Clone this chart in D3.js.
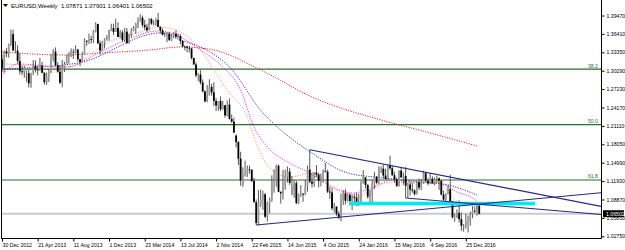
<!DOCTYPE html>
<html><head><meta charset="utf-8">
<script src="https://cdn.jsdelivr.net/npm/d3@7"></script>
<style>html,body{margin:0;padding:0;background:#fff}svg{display:block}</style>
</head><body>
<svg id="c" width="625" height="250"></svg>
<script>
// weekly bars, first bar = week of 30 Dec 2012
const opens=[1.3215,1.3067,1.3347,1.3316,1.3457,1.3637,1.3364,1.3364,1.3191,1.3020,1.3003,1.2960,1.2987,1.2818,1.2995,1.3112,1.3048,1.3034,1.3111,1.2993,1.2836,1.2936,1.2995,1.3220,1.3346,1.3122,1.3012,1.2830,1.3067,1.3141,1.3279,1.3280,1.3343,1.3332,1.3380,1.3219,1.3176,1.3300,1.3525,1.3523,1.3554,1.3552,1.3683,1.3803,1.3485,1.3364,1.3500,1.3557,1.3590,1.3704,1.3740,1.3676,1.3740,
1.3589,1.3666,1.3537,1.3678,1.3487,1.3636,1.3693,1.3740,1.3802,1.3875,1.3910,1.3790,1.3750,1.3703,1.3886,1.3813,1.3830,1.3873,1.3758,1.3698,1.3627,1.3635,1.3643,1.3542,1.3606,1.3645,1.3593,1.3605,1.3523,1.3430,1.3429,1.3410,1.3400,1.3240,1.3132,1.2951,1.2963,1.2832,1.2685,1.2520,1.2627,1.2760,1.2670,1.2525,1.2450,1.2526,1.2390,1.2454,1.2286,1.2465,1.2226,1.2180,
1.1950,1.1841,1.1565,1.1130,1.1290,1.1315,1.1388,1.1381,1.1196,1.0842,1.0496,1.0822,1.0890,1.0971,1.0600,1.0808,1.0875,1.1198,1.1202,1.1447,1.1015,1.0990,1.1113,1.1265,1.1350,1.0970,1.1040,1.1160,1.0830,1.0980,1.0982,1.0967,1.1105,1.1385,1.1183,1.1150,1.1335,1.1300,1.1195,1.1210,1.1356,1.1350,1.1018,1.1004,1.0740,1.0768,1.0647,1.0590,1.0883,1.0990,1.0867,1.0965,
1.0860,1.0928,1.0916,1.0796,1.0830,1.1158,1.1255,1.1130,1.0933,1.1004,1.1150,1.1268,1.1167,1.1390,1.1400,1.1286,1.1228,1.1455,1.1405,1.1290,1.1225,1.1113,1.1365,1.1253,1.1280,1.1115,1.1136,1.1052,1.1036,1.0977,1.1174,1.1086,1.1162,1.1325,1.1199,1.1155,1.1233,1.1157,1.1226,1.1240,1.1200,1.0970,1.0885,1.0985,1.1060,1.0855,1.0590,1.0590,1.0665,1.0560,1.0450,1.0455,
1.0520,1.0530,1.0643,1.0700,1.0697,1.07871];
const highs=[1.3300,1.3366,1.3404,1.3479,1.3711,1.3711,1.3521,1.3452,1.3319,1.3113,1.3109,1.3030,1.3042,1.2955,1.3205,1.3200,1.3109,1.3243,1.3174,1.3011,1.2999,1.3060,1.3306,1.3390,1.3416,1.3170,1.3118,1.3207,1.3177,1.3296,1.3345,1.3400,1.3393,1.3452,1.3394,1.3224,1.3344,1.3568,1.3540,1.3646,1.3608,1.3705,1.3833,1.3812,1.3530,1.3523,1.3570,1.3620,1.3710,1.3810,1.3811,1.3895,1.3834,
1.3705,1.3700,1.3740,1.3739,1.3645,1.3737,1.3773,1.3826,1.3915,1.3967,1.3945,1.3876,1.3808,1.3906,1.3905,1.3867,1.3907,1.3993,1.3770,1.3734,1.3669,1.3670,1.3677,1.3644,1.3677,1.3700,1.3650,1.3637,1.3530,1.3445,1.3444,1.3444,1.3400,1.3245,1.3167,1.2993,1.3037,1.2884,1.2700,1.2790,1.2887,1.2813,1.2837,1.2577,1.2510,1.2600,1.2530,1.2456,1.2531,1.2570,1.2300,1.2250,
1.1970,1.1860,1.1680,1.1423,1.1534,1.1452,1.1450,1.1390,1.1245,1.0889,1.1043,1.1052,1.1032,1.0997,1.0852,1.0920,1.1290,1.1390,1.1467,1.1467,1.1021,1.1380,1.1385,1.1436,1.1410,1.1278,1.1216,1.1200,1.0986,1.1128,1.0997,1.1214,1.1450,1.1714,1.1332,1.1340,1.1460,1.1330,1.1318,1.1387,1.1495,1.1383,1.1096,1.1077,1.0830,1.0775,1.0690,1.0980,1.1042,1.1060,1.0990,1.0995,
1.0970,1.0985,1.0994,1.0985,1.1200,1.1376,1.1260,1.1140,1.1045,1.1218,1.1342,1.1278,1.1439,1.1437,1.1465,1.1398,1.1460,1.1616,1.1447,1.1349,1.1249,1.1372,1.1416,1.1335,1.1428,1.1165,1.1185,1.1164,1.1055,1.1198,1.1234,1.1222,1.1366,1.1342,1.1240,1.1327,1.1272,1.1256,1.1282,1.1250,1.1210,1.1038,1.0990,1.1124,1.1300,1.0860,1.0650,1.0720,1.0874,1.0669,1.0480,1.0652,
1.0620,1.0685,1.0775,1.0775,1.0830,1.07901];
const lows=[1.3001,1.2998,1.3254,1.3247,1.3437,1.3363,1.3322,1.3144,1.2967,1.2955,1.2910,1.2845,1.2750,1.2745,1.2953,1.2999,1.2953,1.3030,1.2989,1.2797,1.2796,1.2840,1.2990,1.3180,1.3105,1.2993,1.2806,1.2755,1.3007,1.3138,1.3147,1.3254,1.3225,1.3314,1.3183,1.3104,1.3173,1.3295,1.3443,1.3475,1.3480,1.3491,1.3667,1.3473,1.3295,1.3362,1.3399,1.3528,1.3527,1.3686,1.3624,1.3674,1.3588,
1.3574,1.3507,1.3506,1.3478,1.3477,1.3588,1.3685,1.3642,1.3736,1.3843,1.3749,1.3705,1.3673,1.3696,1.3791,1.3783,1.3774,1.3760,1.3647,1.3614,1.3586,1.3503,1.3522,1.3525,1.3580,1.3571,1.3570,1.3473,1.3420,1.3367,1.3333,1.3333,1.3215,1.3132,1.2919,1.2859,1.2800,1.2667,1.2500,1.2505,1.2614,1.2613,1.2439,1.2357,1.2359,1.2358,1.2380,1.2247,1.2269,1.2219,1.2165,1.1997,
1.1754,1.1460,1.1114,1.1098,1.1270,1.1262,1.1316,1.1176,1.0840,1.0462,1.0458,1.0765,1.0712,1.0580,1.0520,1.0660,1.0850,1.1000,1.1100,1.1010,1.0819,1.0888,1.1048,1.1168,1.1130,1.0955,1.0915,1.0808,1.0808,1.0930,1.0848,1.0960,1.1017,1.1158,1.1086,1.1100,1.1260,1.1087,1.1105,1.1170,1.1340,1.0994,1.0895,1.0705,1.0675,1.0617,1.0560,1.0525,1.0795,1.0805,1.0850,1.0850,
1.0710,1.0800,1.0778,1.0780,1.0810,1.1150,1.1067,1.0900,1.0810,1.0822,1.1058,1.1143,1.1144,1.1328,1.1233,1.1217,1.1216,1.1385,1.1283,1.1166,1.1098,1.1100,1.1250,1.1131,1.0912,1.0912,1.0952,1.1000,1.0952,1.0970,1.1046,1.1046,1.1148,1.1178,1.1124,1.1140,1.1150,1.1121,1.1160,1.1045,1.0953,1.0859,1.0851,1.0972,1.0850,1.0570,1.0518,1.0580,1.0505,1.0365,1.0352,1.0400,
1.0340,1.0450,1.0575,1.0660,1.0620,1.06401];
const closes=[1.3067,1.3347,1.3316,1.3457,1.3637,1.3364,1.3364,1.3191,1.3020,1.3003,1.3075,1.2987,1.2818,1.2995,1.3112,1.3048,1.3034,1.3111,1.2993,1.2836,1.2936,1.2995,1.3220,1.3346,1.3122,1.3012,1.2830,1.3067,1.3141,1.3279,1.3280,1.3343,1.3332,1.3380,1.3219,1.3176,1.3300,1.3525,1.3523,1.3554,1.3552,1.3683,1.3803,1.3485,1.3364,1.3500,1.3557,1.3590,1.3704,1.3740,1.3676,1.3740,1.3589,
1.3666,1.3537,1.3678,1.3487,1.3636,1.3693,1.3740,1.3802,1.3875,1.3910,1.3790,1.3750,1.3703,1.3886,1.3813,1.3830,1.3873,1.3758,1.3698,1.3627,1.3635,1.3643,1.3542,1.3606,1.3645,1.3593,1.3605,1.3523,1.3430,1.3429,1.3410,1.3400,1.3240,1.3132,1.2951,1.2963,1.2832,1.2685,1.2520,1.2627,1.2760,1.2670,1.2525,1.2450,1.2526,1.2390,1.2454,1.2286,1.2465,1.2226,1.2180,1.2001,
1.1841,1.1565,1.1205,1.1290,1.1315,1.1388,1.1381,1.1196,1.0842,1.0496,1.0822,1.0890,1.0971,1.0600,1.0808,1.0875,1.1198,1.1202,1.1447,1.1015,1.0990,1.1113,1.1265,1.1350,1.1164,1.1108,1.1160,1.0830,1.0980,1.0982,1.0967,1.1105,1.1385,1.1183,1.1150,1.1335,1.1300,1.1195,1.1210,1.1356,1.1350,1.1018,1.1004,1.0740,1.0768,1.0647,1.0590,1.0883,1.0990,1.0867,1.0965,1.0860,
1.0928,1.0916,1.0796,1.0830,1.1158,1.1255,1.1130,1.0933,1.1004,1.1150,1.1268,1.1167,1.1390,1.1400,1.1286,1.1228,1.1455,1.1405,1.1290,1.1225,1.1113,1.1365,1.1253,1.1280,1.1115,1.1136,1.1052,1.1036,1.0977,1.1174,1.1086,1.1162,1.1325,1.1199,1.1155,1.1233,1.1157,1.1226,1.1240,1.1200,1.0970,1.0885,1.0985,1.1060,1.0855,1.0590,1.0590,1.0665,1.0560,1.0450,1.0455,1.0520,
1.0530,1.0643,1.0700,1.0697,1.0787,1.06502];

// moving averages: [bar index, price]
const maRed=[[0,1.3340],[29,1.3290],[44,1.3323],[66,1.3373],[80,1.3423],[89,1.3407],[95,1.3373],[116,1.3041],[139,1.2592],[170,1.2209],[187,1.2043],[213,1.1777]];
const maBlue=[[0,1.3057],[34,1.3157],[71,1.3656],[80,1.3540],[89,1.3423],[102,1.3091],[117,1.2326],[125,1.2043],[139,1.1660],[155,1.1328],[170,1.1250],[187,1.1180],[200,1.1128],[213,1.0961]];
const maMagenta=[[0,1.2947],[7,1.3140],[29,1.3090],[44,1.3340],[59,1.3590],[70,1.3690],[80,1.3589],[89,1.3373],[99,1.3091],[107,1.2708],[113,1.2093],[119,1.1760],[129,1.1494],[138,1.1328],[148,1.1095],[157,1.0995],[166,1.1078],[175,1.1211],[183,1.1178],[196,1.1161],[204,1.1012],[211,1.0912],[213,1.0862]];
const maOrange=[[2,1.3140],[29,1.3090],[48,1.3507],[62,1.3673],[70,1.3756],[80,1.3673],[89,1.3373],[95,1.3041],[102,1.2658],[110,1.2259],[114,1.1827],[121,1.1378],[129,1.1261],[139,1.1328],[146,1.1161],[152,1.0995],[159,1.0929],[165,1.1045],[168,1.1128],[177,1.1178],[183,1.1161],[196,1.1161],[202,1.0929],[207,1.0796],[213,1.0846]];

const priceTicks=[1.39470,1.36410,1.33350,1.30290,1.27230,1.24170,1.21110,1.18050,1.14990,1.11930,1.08870,1.05810,1.02750];
const dateTickBars=[0,16,32,48,64,80,96,112,128,144,160,176,192,208];
const dateLabels=["30 Dec 2012","21 Apr 2013","11 Aug 2013","1 Dec 2013","23 Mar 2014","13 Jul 2014","2 Nov 2014","22 Feb 2015","14 Jun 2015","4 Oct 2015","24 Jan 2016","15 May 2016","4 Sep 2016","25 Dec 2016"];
const fibLevels=[1.30546,1.21330,1.12114];
const fibNames=["38.2","50.0","61.8"];
// trend lines: [[bar, price],[bar, price]] extended to the right edge
const trendLines=[[[138,1.1714],[250,1.0907]],[[114,1.0462],[250,1.0935]],[[181,1.0912],[250,1.0696]]];
const zone={from:155.6,to:239,hi:1.0850,lo:1.0790};
const header="EURUSD,Weekly  1.07871 1.07901 1.06401 1.06502";
const lastPrice=1.06502;

const svg=d3.select("#c");
const L=1,R=601,B=238;
const x=d3.scaleLinear().domain([0,214]).range([2,2+214*2.23]);
const y=d3.scaleLinear().domain([1.02750,1.39470]).range([236.3,15.5]);
const font="'Liberation Sans', Arial, sans-serif";
const fs=5.2;

const plot=svg.append("g");
plot.append("clipPath").attr("id","clip").append("rect").attr("x",L).attr("y",0).attr("width",R-L).attr("height",B);
const g=plot.append("g").attr("clip-path","url(#clip)");

// bid line
g.append("line").attr("x1",L).attr("x2",R).attr("y1",y(lastPrice)).attr("y2",y(lastPrice)).attr("stroke","#c8ccd0").attr("stroke-width",2);
// fib levels
fibLevels.forEach((p,k)=>{
  g.append("line").attr("x1",L).attr("x2",R).attr("y1",y(p)).attr("y2",y(p)).attr("stroke","#2b6e2b").attr("stroke-width",1.2);
  g.append("text").attr("x",R-3).attr("y",y(p)-1.5).attr("text-anchor","end").attr("font-family",font).attr("font-size",fs).attr("fill","#2b7a2b").text(fibNames[k]);
});

// moving averages
const line=d3.line().x(d=>x(d[0])).y(d=>y(d[1])).curve(d3.curveMonotoneX);
[[maRed,"#ee2222"],[maBlue,"#3333aa"],[maMagenta,"#ee22ee"],[maOrange,"#f4a070"]].forEach(([d,c])=>{
  g.append("path").attr("d",line(d)).attr("fill","none").attr("stroke",c).attr("stroke-width",1).attr("stroke-dasharray","1.2,1.3");
});

// candles
const idx=d3.range(opens.length);
g.selectAll("line.w").data(idx).join("line").attr("class","w")
  .attr("x1",i=>x(i)).attr("x2",i=>x(i)).attr("y1",i=>y(highs[i])).attr("y2",i=>y(lows[i]))
  .attr("stroke","#444").attr("stroke-width",0.9);
g.selectAll("rect.b").data(idx).join("rect").attr("class","b")
  .attr("x",i=>x(i)-0.9).attr("width",1.8)
  .attr("y",i=>y(Math.max(opens[i],closes[i])))
  .attr("height",i=>Math.max(0.8,Math.abs(y(opens[i])-y(closes[i]))))
  .attr("fill",i=>closes[i]>=opens[i]?"#9a9a9a":"#000");

// cyan zone
g.append("rect").attr("x",x(zone.from)).attr("width",x(zone.to)-x(zone.from)).attr("y",y(zone.hi)).attr("height",y(zone.lo)-y(zone.hi)).attr("fill","#00eaf0");

// trend lines
trendLines.forEach(([a,b])=>{
  const x1=x(a[0]),y1=y(a[1]),x2=x(b[0]),y2=y(b[1]);
  const s=(y2-y1)/(x2-x1);
  g.append("line").attr("x1",x1).attr("y1",y1).attr("x2",R).attr("y2",y1+s*(R-x1)).attr("stroke","#26268c").attr("stroke-width",1.1);
});

// frame
svg.append("line").attr("x1",L+0.5).attr("x2",L+0.5).attr("y1",0).attr("y2",B).attr("stroke","#000");
svg.append("line").attr("x1",L).attr("x2",R+0.5).attr("y1",B+0.5).attr("y2",B+0.5).attr("stroke","#000");

// right axis
const ay=svg.append("g").attr("transform",`translate(${R+0.5},0)`).call(d3.axisRight(y).tickValues(priceTicks).tickFormat(d3.format(".5f")).tickSize(3).tickPadding(2));
ay.select(".domain").attr("d",`M0,0V${B+0.5}`).attr("stroke","#000");
ay.selectAll("text").attr("font-family",font).attr("font-size",fs).attr("fill","#000");
// last price label
const lp=svg.append("g").attr("transform",`translate(${R+2},${y(lastPrice)})`);
lp.append("rect").attr("x",0).attr("y",-3.5).attr("width",21).attr("height",7).attr("fill","#000");
lp.append("text").attr("x",3).attr("y",1.9).attr("font-family",font).attr("font-size",fs).attr("fill","#fff").text(d3.format(".5f")(lastPrice));

// bottom axis
const ax=svg.append("g").attr("transform",`translate(0,${B+0.5})`).call(d3.axisBottom(x).tickValues(dateTickBars).tickFormat((d,k)=>dateLabels[k]).tickSize(3).tickPadding(2));
ax.select(".domain").remove();
ax.selectAll("text").attr("text-anchor","start").attr("dx",0).attr("font-family",font).attr("font-size",fs).attr("fill","#000");

// header
svg.append("path").attr("d","M3,4 L8,4 L5.5,7 Z").attr("fill","#000");
svg.append("text").attr("x",11).attr("y",7.5).attr("font-family",font).attr("font-size",6).attr("fill","#000").attr("xml:space","preserve").text(header);
</script>
</body></html>
